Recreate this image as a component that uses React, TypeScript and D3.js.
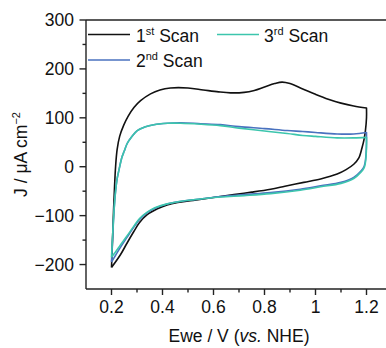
import React from "react";
import * as d3 from "d3";

// Scan 1 (black)
const scan1E = [0.2, 0.204, 0.208, 0.212, 0.216, 0.222, 0.232, 0.248, 0.265, 0.288, 0.314, 0.353, 0.39, 0.431, 0.5, 0.56, 0.62, 0.667, 0.72, 0.76, 0.8, 0.84, 0.869, 0.9, 0.95, 1.0, 1.05, 1.1, 1.15, 1.2,
  1.2, 1.196, 1.19, 1.183, 1.17, 1.15, 1.12, 1.085, 1.02, 0.954, 0.88, 0.824, 0.75, 0.68, 0.6, 0.52, 0.46, 0.418, 0.38, 0.34, 0.31, 0.287, 0.26, 0.235, 0.2];
const scan1J = [-206, -150, -90, -40, 0, 35, 62, 85, 103, 121, 135, 149, 157, 161, 161, 157, 153, 151, 152, 156, 163, 170, 173, 170, 159, 148, 138, 130, 124, 120,
  100, 75, 55, 40, 18, 5, -6, -15, -25, -32, -40, -46, -52, -57, -63, -69, -73, -78, -86, -98, -114, -133, -157, -180, -206];

// Scan 2 (blue)
const scan2E = [0.2, 0.205, 0.21, 0.216, 0.222, 0.23, 0.24, 0.25, 0.262, 0.28, 0.301, 0.33, 0.366, 0.42, 0.471, 0.55, 0.627, 0.7, 0.8, 0.889, 0.95, 1.0, 1.085, 1.15, 1.2,
  1.2, 1.198, 1.195, 1.19, 1.18, 1.15, 1.1, 1.02, 0.94, 0.824, 0.72, 0.627, 0.55, 0.48, 0.418, 0.37, 0.34, 0.31, 0.287, 0.26, 0.235, 0.215, 0.2];
const scan2J = [-195, -140, -90, -50, -25, -5, 18, 32, 48, 62, 74, 81, 86, 89, 90, 88, 86, 82, 78, 74, 72, 70, 67, 67, 70,
  50, 25, 10, 0, -8, -22, -32, -39, -46, -53, -57, -61, -66, -70, -76, -85, -94, -108, -124, -145, -165, -182, -195];

// Scan 3 (teal)
const scan3E = [0.2, 0.205, 0.21, 0.216, 0.222, 0.23, 0.24, 0.25, 0.262, 0.28, 0.301, 0.33, 0.366, 0.42, 0.471, 0.55, 0.627, 0.7, 0.8, 0.889, 0.95, 1.0, 1.085, 1.15, 1.2,
  1.2, 1.198, 1.195, 1.19, 1.18, 1.15, 1.1, 1.02, 0.94, 0.824, 0.72, 0.627, 0.55, 0.48, 0.418, 0.37, 0.34, 0.31, 0.287, 0.26, 0.235, 0.215, 0.2];
const scan3J = [-185, -135, -88, -50, -25, -5, 18, 32, 48, 62, 74, 81, 86, 89, 89, 87, 84, 79, 73, 68, 64, 62, 59, 59, 60,
  40, 20, 6, -3, -10, -24, -34, -41, -48, -55, -59, -62, -66, -70, -76, -84, -93, -106, -122, -142, -160, -175, -185];

const seriesNames = ["1st", "2nd", "3rd"];
const seriesColors = ["#111111", "#4a72bf", "#3cc5ad"];

const xTicks = [0.2, 0.4, 0.6, 0.8, 1, 1.2];
const xTickLabels = ["0.2", "0.4", "0.6", "0.8", "1", "1.2"];
const xMinor = [0.3, 0.5, 0.7, 0.9, 1.1];
const yTicks = [-200, -100, 0, 100, 200, 300];
const yTickLabels = ["\u2212200", "\u2212100", "0", "100", "200", "300"];
const yMinor = [-150, -50, 50, 150, 250];

export default function App() {
  const W = 386, H = 348;
  const left = 86, top = 20, bottom = 289;
  const x = d3.scaleLinear().domain([0.1, 1.3]).range([left, left + 306]);
  const y = d3.scaleLinear().domain([-250, 300]).range([bottom, top]);
  const font = "'Liberation Sans', Arial, sans-serif";
  const fs = 17.5;

  const scans = [
    { E: scan1E, J: scan1J },
    { E: scan2E, J: scan2J },
    { E: scan3E, J: scan3J },
  ];
  const line = d3
    .line<[number, number]>()
    .x((d) => x(d[0]))
    .y((d) => y(d[1]))
    .curve(d3.curveCatmullRom.alpha(0.5));

  const paths = scans.map((s) => {
    const pts = s.E.map((e, k) => [e, s.J[k]] as [number, number]);
    const maxE = d3.max(s.E) as number;
    const split = s.E.indexOf(maxE);
    const anodic = pts.slice(0, split + 1);
    const cathodic = pts.slice(split + 1);
    const a = line(anodic) || "";
    const c = line([pts[split], ...cathodic]) || "";
    return a + c.replace(/^M/, "L");
  });

  const legendItems = [
    { i: 0, lx: 88, ly: 34.5, tx: 136 },
    { i: 2, lx: 217, ly: 34.5, tx: 264 },
    { i: 1, lx: 88, ly: 60, tx: 136 },
  ];
  const supers = ["st", "nd", "rd"];

  return (
    <svg width={W} height={H} style={{ position: "absolute", left: 0, top: 0 }} fontFamily={font}>
      <rect x={0} y={0} width={W} height={H} fill="#fff" />
      {/* curves */}
      {paths.map((d, i) => (
        <path
          key={i}
          d={d}
          fill="none"
          stroke={seriesColors[i]}
          strokeWidth={1.6}
          strokeLinejoin="round"
        />
      ))}
      {/* frame */}
      <line x1={left} x2={W + 2} y1={top} y2={top} stroke="#222" strokeWidth={1.4} />
      <line x1={left} x2={W + 2} y1={bottom} y2={bottom} stroke="#222" strokeWidth={1.4} />
      <line x1={left} x2={left} y1={top} y2={bottom} stroke="#222" strokeWidth={1.4} />
      {/* x ticks */}
      {xTicks.map((t, i) => (
        <g key={"xt" + i}>
          <line x1={x(t)} x2={x(t)} y1={bottom} y2={bottom + 6} stroke="#222" strokeWidth={1.4} />
          <text x={x(t)} y={313} fontSize={fs} textAnchor="middle" fill="#111">
            {xTickLabels[i]}
          </text>
        </g>
      ))}
      {xMinor.map((t, i) => (
        <line key={"xm" + i} x1={x(t)} x2={x(t)} y1={bottom} y2={bottom + 3.5} stroke="#222" strokeWidth={1.4} />
      ))}
      {/* y ticks */}
      {yTicks.map((t, i) => (
        <g key={"yt" + i}>
          <line x1={left - 6.5} x2={left} y1={y(t)} y2={y(t)} stroke="#222" strokeWidth={1.4} />
          <text x={74} y={y(t) + 6} fontSize={fs} textAnchor="end" fill="#111">
            {yTickLabels[i]}
          </text>
        </g>
      ))}
      {yMinor.map((t, i) => (
        <line key={"ym" + i} x1={left - 3.5} x2={left} y1={y(t)} y2={y(t)} stroke="#222" strokeWidth={1.4} />
      ))}
      {/* axis titles */}
      <text x={239} y={342} fontSize={fs} textAnchor="middle" fill="#111">
        Ewe / V (<tspan fontStyle="italic">vs.</tspan> NHE)
      </text>
      <text
        transform={`translate(27, ${(top + bottom) / 2}) rotate(-90)`}
        fontSize={fs}
        textAnchor="middle"
        fill="#111"
      >
        J / μA cm<tspan dy={-7} fontSize={11}>−2</tspan>
      </text>
      {/* legend */}
      {legendItems.map((it) => (
        <g key={"lg" + it.i}>
          <line x1={it.lx} x2={it.lx + 42} y1={it.ly} y2={it.ly} stroke={seriesColors[it.i]} strokeWidth={1.6} />
          <text x={it.tx} y={it.ly + 7} fontSize={fs} fill="#111">
            {seriesNames[it.i].charAt(0)}
            <tspan dy={-7} fontSize={11}>{supers[it.i]}</tspan>
            <tspan dy={7}> Scan</tspan>
          </text>
        </g>
      ))}
    </svg>
  );
}
